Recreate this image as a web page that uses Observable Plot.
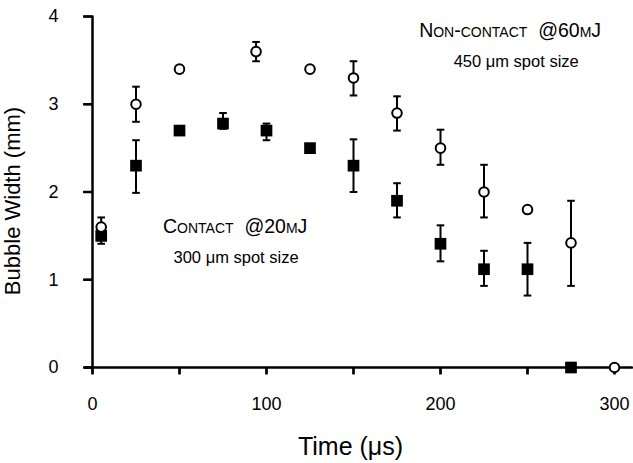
<!DOCTYPE html>
<html>
<head>
<meta charset="utf-8">
<script src="https://cdn.jsdelivr.net/npm/d3@7"></script>
<script src="https://cdn.jsdelivr.net/npm/@observablehq/plot@0.6"></script>
<style>
  html, body { margin: 0; padding: 0; background: #fff; }
</style>
</head>
<body>
<div id="chart"></div>
<script>
// ---- data ----
// Non-contact @60mJ (open circles)
const nonContactTime  = [5, 25, 50, 94, 125, 150, 175, 200, 225, 250, 275, 300];
const nonContactWidth = [1.6, 3.0, 3.4, 3.6, 3.4, 3.3, 2.9, 2.5, 2.0, 1.8, 1.42, 0];
const nonContactLow   = [1.55, 2.8, null, 3.49, null, 3.1, 2.7, 2.31, 1.71, null, 0.93, null];
const nonContactHigh  = [1.71, 3.2, null, 3.71, null, 3.49, 3.09, 2.71, 2.31, null, 1.9, null];

// Contact @20mJ (filled squares)
const contactTime  = [5, 25, 50, 75, 100, 125, 150, 175, 200, 225, 250, 275];
const contactWidth = [1.5, 2.3, 2.7, 2.78, 2.7, 2.5, 2.3, 1.9, 1.41, 1.12, 1.12, 0];
const contactLow   = [1.41, 1.99, null, 2.72, 2.59, null, 2.0, 1.71, 1.21, 0.93, 0.82, null];
const contactHigh  = [1.6, 2.59, null, 2.9, 2.78, null, 2.6, 2.1, 1.62, 1.33, 1.42, null];

const xTicks = [0, 50, 100, 150, 200, 250, 300];
const xTickLabels = [0, 100, 200, 300];
const yTicks = [0, 1, 2, 3, 4];
const xLabel = "Time (μs)";
const yLabel = "Bubble Width (mm)";
const nonContactTitle = "Non-contact  @60mJ";
const nonContactSpot  = "450 μm spot size";
const contactTitle    = "Contact  @20mJ";
const contactSpot     = "300 μm spot size";

// ---- layout ----
const W = 633, H = 463, ML = 92, MR = 19, MT = 16, MB = 96;
const xDomain = [0, 300], yDomain = [0, 4];
// outward tick lengths (9px left, 7px down) expressed in data units
const yTickLen = 9 * (xDomain[1] - xDomain[0]) / (W - ML - MR);
const xTickLen = 7 * (yDomain[1] - yDomain[0]) / (H - MT - MB);

// ---- build tables ----
const nc = nonContactTime.map((t, i) => ({t, w: nonContactWidth[i], lo: nonContactLow[i], hi: nonContactHigh[i]}));
const ct = contactTime.map((t, i) => ({t, w: contactWidth[i], lo: contactLow[i], hi: contactHigh[i]}));
const ncErr = nc.filter(d => d.lo != null);
const ctErr = ct.filter(d => d.lo != null);

// axis paths with tick excursions, built from the tick arrays
const yAxisPath = [];
yTicks.slice().reverse().forEach(v => {
  yAxisPath.push({x: 0, y: v}, {x: -yTickLen, y: v}, {x: 0, y: v});
});
const xAxisPath = [{x: -4, y: 0}];
xTicks.forEach(v => {
  xAxisPath.push({x: v, y: 0}, {x: v, y: -xTickLen}, {x: v, y: 0});
});
xAxisPath.push({x: 310, y: 0});

// horizontal cap symbol for error bars
const capSymbol = {
  draw(context, size) {
    const r = Math.sqrt(size / Math.PI);
    context.moveTo(-r, 0);
    context.lineTo(r, 0);
  }
};

const font = "'Liberation Sans', Arial, Helvetica, sans-serif";

function errorMarks(data) {
  return [
    Plot.ruleX(data, {x: "t", y1: "lo", y2: "hi", stroke: "#000", strokeWidth: 2}),
    Plot.dot(data, {x: "t", y: "lo", symbol: capSymbol, r: 3.8, stroke: "#000", strokeWidth: 2, fill: "none"}),
    Plot.dot(data, {x: "t", y: "hi", symbol: capSymbol, r: 3.8, stroke: "#000", strokeWidth: 2, fill: "none"})
  ];
}

const chart = Plot.plot({
  width: W,
  height: H,
  marginLeft: ML,
  marginRight: MR,
  marginTop: MT,
  marginBottom: MB,
  style: {fontFamily: font, background: "#fff", color: "#000", overflow: "visible"},
  x: {domain: xDomain},
  y: {domain: yDomain},
  marks: [
    // tick labels
    Plot.axisY({ticks: yTicks, tickSize: 0, tickPadding: 34, fontSize: 18, label: null, tickFormat: d => String(d)}),
    Plot.axisX({ticks: xTickLabels, tickSize: 0, tickPadding: 30, fontSize: 18, label: null, tickFormat: d => String(d)}),
    // axis lines with outward ticks
    Plot.line(yAxisPath, {x: "x", y: "y", stroke: "#000", strokeWidth: 2.5, strokeLinejoin: "bevel", curve: "linear"}),
    Plot.line(xAxisPath, {x: "x", y: "y", stroke: "#000", strokeWidth: 2.5, strokeLinejoin: "bevel", curve: "linear"}),
    Plot.ruleY(yTicks, {y: d => d, x1: -yTickLen, x2: 0, stroke: "#000", strokeWidth: 2}),
    Plot.ruleX(xTicks, {x: d => d, y1: -xTickLen, y2: 0, stroke: "#000", strokeWidth: 2}),
    // data
    ...errorMarks(ctErr),
    ...errorMarks(ncErr),
    Plot.dot(ct, {x: "t", y: "w", symbol: "square", r: 6.6, fill: "#000", stroke: "none"}),
    Plot.dot(nc, {x: "t", y: "w", symbol: "circle", r: 4.8, fill: "#fff", stroke: "#000", strokeWidth: 2}),
    // annotations
    Plot.text([nonContactTitle], {x: 240, y: 3.84, text: d => d, fontSize: 19.5, fontVariant: "small-caps", fill: "#000"}),
    Plot.text([nonContactSpot], {x: 243.5, y: 3.48, text: d => d, fontSize: 16.5, fill: "#000"}),
    Plot.text([contactTitle], {x: 82, y: 1.6, text: d => d, fontSize: 19.5, fontVariant: "small-caps", fill: "#000"}),
    Plot.text([contactSpot], {x: 82.5, y: 1.255, text: d => d, fontSize: 16.5, fill: "#000"}),
    // axis titles
    Plot.text([xLabel], {frameAnchor: "bottom", textAnchor: "middle", lineAnchor: "middle", dx: -3, dy: 79, text: d => d, fontSize: 25, fill: "#000"}),
    Plot.text([yLabel], {frameAnchor: "left", textAnchor: "middle", lineAnchor: "middle", dx: -80, dy: 9, rotate: -90, text: d => d, fontSize: 22, fill: "#000"})
  ]
});
document.getElementById("chart").appendChild(chart);
</script>
</body>
</html>
